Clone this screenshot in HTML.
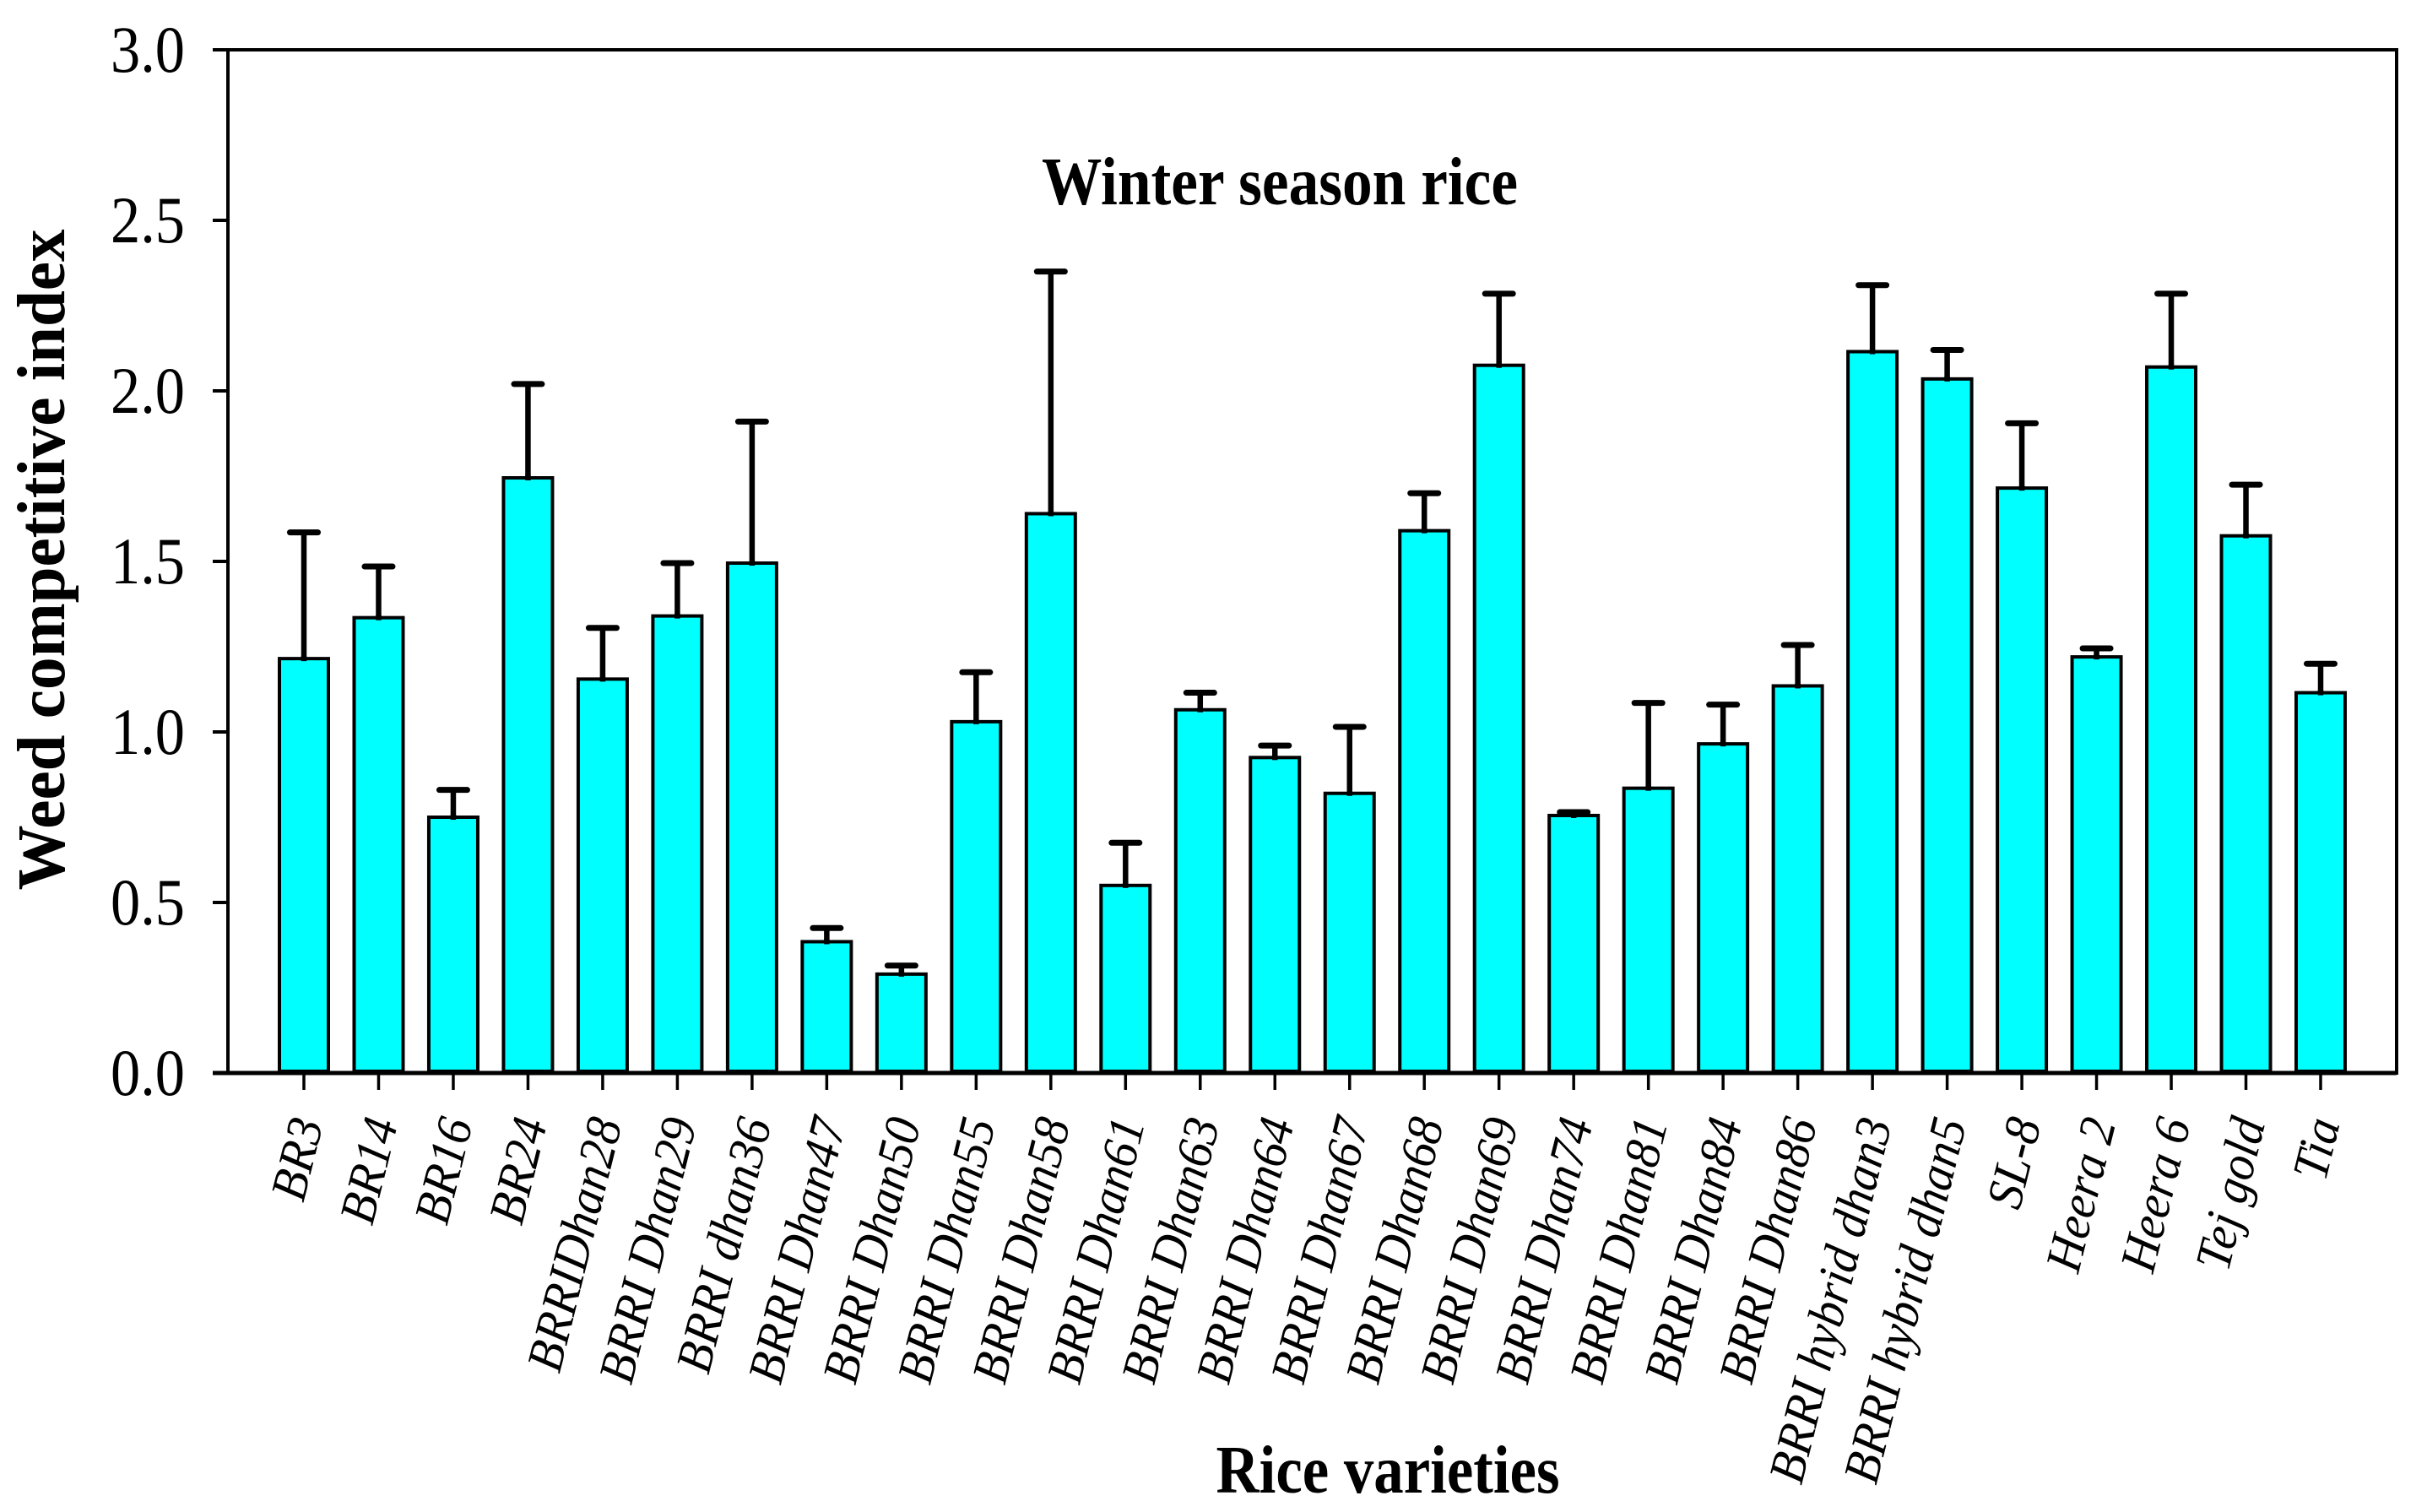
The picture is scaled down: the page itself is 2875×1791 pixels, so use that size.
<!DOCTYPE html>
<html>
<head>
<meta charset="utf-8">
<style>
html,body{margin:0;padding:0;background:#fff;}
svg{display:block;}
text{font-family:"Liberation Serif",serif;fill:#000;}
</style>
</head>
<body>
<svg id="chart" xmlns="http://www.w3.org/2000/svg" width="2875" height="1791" viewBox="0 0 2875 1791">
  <rect x="0" y="0" width="2875" height="1791" fill="#fff"/>
  <text x="1516" y="242" font-size="80" font-weight="bold" text-anchor="middle" textLength="564" lengthAdjust="spacingAndGlyphs">Winter season rice</text>
  <text transform="translate(76,663) rotate(-90)" font-size="80" font-weight="bold" text-anchor="middle" textLength="783" lengthAdjust="spacingAndGlyphs">Weed competitive index</text>
  <text x="1644" y="1768" font-size="80" font-weight="bold" text-anchor="middle" textLength="407" lengthAdjust="spacingAndGlyphs">Rice varieties</text>
  <g id="bars"></g>
  <g id="axes"></g>
</svg>
<script>
var categories = ["BR3","BR14","BR16","BR24","BRRIDhan28","BRRI Dhan29","BRRI dhan36","BRRI Dhan47","BRRI Dhan50","BRRI Dhan55","BRRI Dhan58","BRRI Dhan61","BRRI Dhan63","BRRI Dhan64","BRRI Dhan67","BRRI Dhan68","BRRI Dhan69","BRRI Dhan74","BRRI Dhan81","BRRI Dhan84","BRRI Dhan86","BRRI hybrid dhan3","BRRI hybrid dhan5","SL-8","Heera 2","Heera 6","Tej gold","Tia"];
var values = [1.215,1.335,0.75,1.745,1.155,1.34,1.495,0.385,0.29,1.03,1.64,0.55,1.065,0.925,0.82,1.59,2.075,0.755,0.835,0.965,1.135,2.115,2.035,1.715,1.22,2.07,1.575,1.115];
var errorTops = [1.585,1.485,0.83,2.02,1.305,1.495,1.91,0.425,0.315,1.175,2.35,0.675,1.115,0.96,1.015,1.7,2.285,0.765,1.085,1.08,1.255,2.31,2.12,1.905,1.245,2.285,1.725,1.2];
var yTicks = [0,0.5,1,1.5,2,2.5,3];
var yTickLabels = ["0.0","0.5","1.0","1.5","2.0","2.5","3.0"];

var NS = "http://www.w3.org/2000/svg";
var plotLeft = 270, plotRight = 2839, plotTop = 59, plotBottom = 1271;
var firstCenter = 360, lastCenter = 2749, barWidth = 58, capWidth = 39;
function yScale(v){ return plotBottom - (v / 3) * (plotBottom - plotTop); }
function xScale(i){ return firstCenter + i * (lastCenter - firstCenter) / (categories.length - 1); }
function mk(tag, attrs, parent){
  var el = document.createElementNS(NS, tag);
  for (var k in attrs) el.setAttribute(k, attrs[k]);
  parent.appendChild(el);
  return el;
}
var barsG = document.getElementById("bars");
var axesG = document.getElementById("axes");

var frame = mk("rect", {x:plotLeft, y:plotTop, width:plotRight-plotLeft, height:plotBottom-plotTop, fill:"none", stroke:"#000", "stroke-width":4}, axesG);



categories.forEach(function(name, i){
  var cx = xScale(i);
  var top = yScale(values[i]);
  var etop = yScale(errorTops[i]);
  var stem = mk("line", {x1:cx, x2:cx, y1:top, y2:etop, stroke:"#000", "stroke-width":6.5}, barsG);
  
  
  var cap = mk("line", {x1:cx-capWidth/2+3, x2:cx+capWidth/2-3, y1:etop, y2:etop, stroke:"#000", "stroke-width":7, "stroke-linecap":"round"}, barsG);
  
  
  var bar = mk("rect", {x:cx-barWidth/2, y:top, width:barWidth, height:plotBottom-top-2, fill:"#00ffff", stroke:"#000", "stroke-width":4}, barsG);
  
  
  var stem2 = mk("line", {x1:cx, x2:cx, y1:top+3, y2:top-3, stroke:"#000", "stroke-width":6.5}, barsG);
  
  
  var tick = mk("line", {x1:cx, x2:cx, y1:plotBottom, y2:plotBottom+20, stroke:"#000", "stroke-width":3.5}, axesG);
  
  
  var lab = mk("text", {transform:"translate("+(cx+23)+","+(plotBottom+59)+") rotate(-76) scale(0.95,1)", "font-size":60, "font-style":"italic", "text-anchor":"end"}, axesG);
  lab.textContent = name;
  
  
});

var baseline = mk("line", {x1:plotLeft-18, x2:plotRight, y1:plotBottom, y2:plotBottom, stroke:"#000", "stroke-width":5}, axesG);



yTicks.forEach(function(v, i){
  var y = yScale(v);
  var t = mk("line", {x1:plotLeft-18, x2:plotLeft, y1:y, y2:y, stroke:"#000", "stroke-width":4}, axesG);
  
  
  var lab = mk("text", {x:219, y:y+26, "font-size":78, "text-anchor":"end", textLength:88, lengthAdjust:"spacingAndGlyphs"}, axesG);
  lab.textContent = yTickLabels[i];
  
  
});
</script>
</body>
</html>
